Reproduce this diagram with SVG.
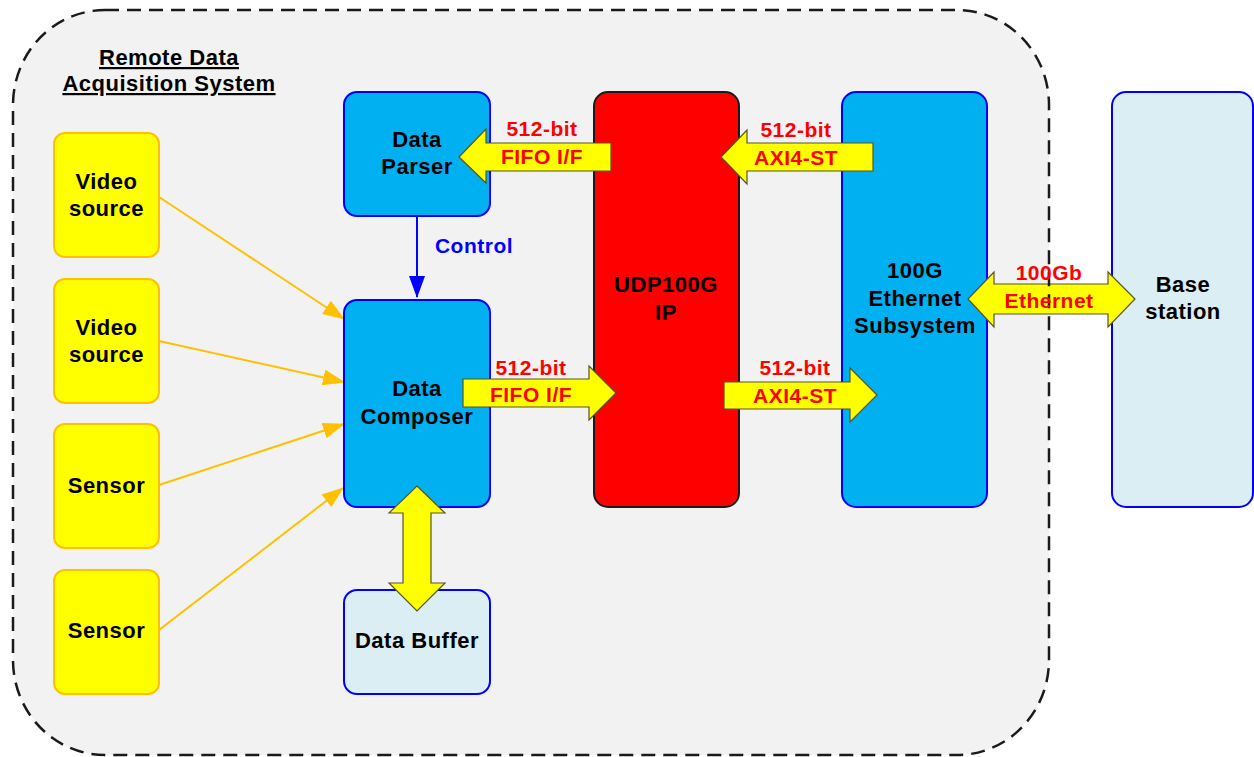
<svg xmlns="http://www.w3.org/2000/svg" width="1254" height="757" viewBox="0 0 1254 757">
<defs>
<style>
.t{font-family:"Liberation Sans",Arial,sans-serif;font-weight:bold;font-size:22px;letter-spacing:0.5px;fill:#000;text-anchor:middle}
.r{font-family:"Liberation Sans",Arial,sans-serif;font-weight:bold;font-size:21px;letter-spacing:0.5px;fill:#FF0000;text-anchor:middle}
.ctl{font-family:"Liberation Sans",Arial,sans-serif;font-weight:bold;font-size:21px;letter-spacing:0.5px;fill:#0000FF;text-anchor:middle}
.src{fill:#FFFF00;stroke:#FFC000;stroke-width:2}
.blue{fill:#00B0F0;stroke:#0000FF;stroke-width:2}
.light{fill:#DAEEF3;stroke:#0000FF;stroke-width:2}
.fat{fill:#FFFF00;stroke:#55552a;stroke-width:1.2;stroke-linejoin:miter}
.feed{stroke:#FFC000;stroke-width:2;fill:none;marker-end:url(#oa)}
</style>
<marker id="oa" markerUnits="userSpaceOnUse" markerWidth="22" markerHeight="16" refX="21" refY="8" orient="auto">
<path d="M0,0 L22,8 L0,16 Z" fill="#FFC000"/>
</marker>
<marker id="ba" markerUnits="userSpaceOnUse" markerWidth="22" markerHeight="16" refX="21" refY="8" orient="auto">
<path d="M0,0 L22,8 L0,16 Z" fill="#0000FF"/>
</marker>
</defs>

<g id="container">
<rect x="13" y="10" width="1036" height="745" rx="92" ry="95" fill="#F2F2F2"/>
</g>

<g id="connectors">
<line class="feed" x1="159" y1="197" x2="344" y2="319"/>
<line class="feed" x1="159" y1="341" x2="344" y2="382"/>
<line class="feed" x1="159" y1="485" x2="344" y2="424"/>
<line class="feed" x1="159" y1="630" x2="343" y2="488"/>
<line x1="417" y1="216" x2="417" y2="297" stroke="#0000FF" stroke-width="2" marker-end="url(#ba)"/>
</g>

<g id="video1"><rect class="src" x="54" y="133" width="105" height="124" rx="11"/><text class="t" x="106.5" y="189">Video</text><text class="t" x="106.5" y="216">source</text></g>
<g id="video2"><rect class="src" x="54" y="279" width="105" height="124" rx="11"/><text class="t" x="106.5" y="335">Video</text><text class="t" x="106.5" y="362">source</text></g>
<g id="sensor1"><rect class="src" x="54" y="424" width="105" height="124" rx="11"/><text class="t" x="106.5" y="493">Sensor</text></g>
<g id="sensor2"><rect class="src" x="54" y="570" width="105" height="124" rx="11"/><text class="t" x="106.5" y="638">Sensor</text></g>

<g id="data-parser"><rect class="blue" x="344" y="92" width="146" height="124" rx="13"/><text class="t" x="417" y="147">Data</text><text class="t" x="417" y="174">Parser</text></g>
<g id="data-composer"><rect class="blue" x="344" y="300" width="146" height="207" rx="13"/><text class="t" x="417" y="396">Data</text><text class="t" x="417" y="424">Composer</text></g>
<g id="data-buffer"><rect class="light" x="344" y="590" width="146" height="104" rx="13"/><text class="t" x="417" y="648">Data Buffer</text></g>
<g id="udp100g"><rect x="594" y="92" width="145" height="415" rx="14" fill="#FF0000" stroke="#1a1a1a" stroke-width="2"/><text class="t" x="666" y="292">UDP100G</text><text class="t" x="666" y="320">IP</text></g>
<g id="ethernet"><rect class="blue" x="842" y="92" width="145" height="415" rx="14"/><text class="t" x="915" y="278">100G</text><text class="t" x="915" y="306">Ethernet</text><text class="t" x="915" y="333">Subsystem</text></g>
<g id="base-station"><rect class="light" x="1112" y="92" width="141" height="415" rx="14"/><text class="t" x="1183" y="292">Base</text><text class="t" x="1183" y="319">station</text></g>

<g id="bus-arrows">
<polygon class="fat" points="611,143 486,143 486,129 459,157 486,183 486,171 611,171"/>
<polygon class="fat" points="873,143 747,143 747,130 721,157 747,184 747,171 873,171"/>
<polygon class="fat" points="463,379 589,379 589,366 616,393 589,420 589,407 463,407"/>
<polygon class="fat" points="724,382 850,382 850,368 877,395 850,422 850,409 724,409"/>
<polygon class="fat" points="968,299 994,272 994,284 1108,284 1108,272 1135,299 1108,327 1108,314 994,314 994,327"/>
<polygon class="fat" points="417,486 445,513 431,513 431,583 445,583 417,611 389,583 403,583 403,513 389,513"/>
</g>

<g id="container-outline">
<rect x="13" y="10" width="1036" height="745" rx="92" ry="95" fill="none" stroke="#1a1a1a" stroke-width="2.5" stroke-dasharray="14 8"/>
<text class="t" x="169" y="65" text-decoration="underline">Remote Data</text>
<text class="t" x="169" y="91" text-decoration="underline">Acquisition System</text>
</g>

<g id="labels">
<text class="ctl" x="474" y="253">Control</text>
<text class="r" x="542" y="136">512-bit</text>
<text class="r" x="542" y="164">FIFO I/F</text>
<text class="r" x="796" y="137">512-bit</text>
<text class="r" x="796" y="165">AXI4-ST</text>
<text class="r" x="531" y="375">512-bit</text>
<text class="r" x="531" y="402">FIFO I/F</text>
<text class="r" x="795" y="375">512-bit</text>
<text class="r" x="795" y="403">AXI4-ST</text>
<text class="r" x="1049" y="280">100Gb</text>
<text class="r" x="1049" y="308">Ethernet</text>
</g>
</svg>
